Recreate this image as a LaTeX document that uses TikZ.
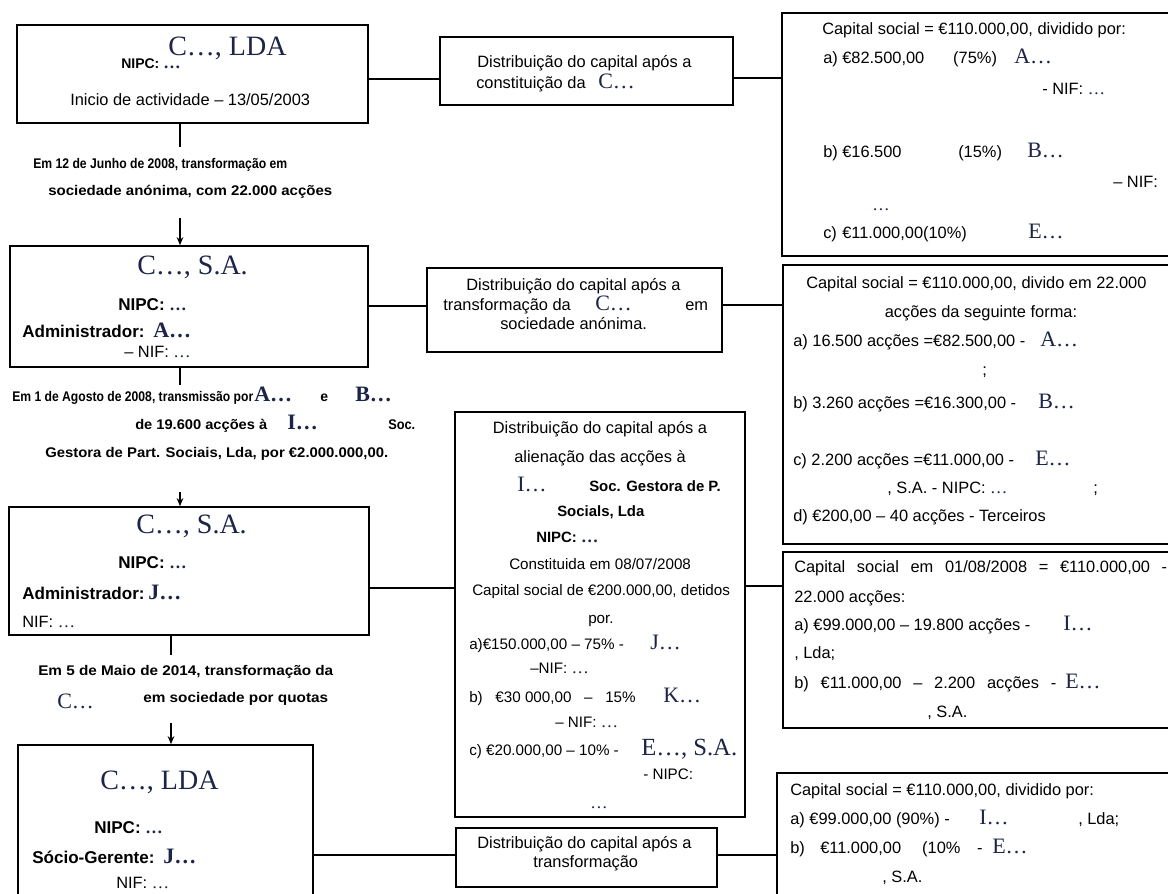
\documentclass[tikz,border=0pt]{standalone}
\usepackage{fontspec}
\usepackage{graphicx}
\setmainfont{Liberation Sans}
\newfontfamily\phfont{Liberation Serif}
\usetikzlibrary{fit,arrows.meta}
\definecolor{phc}{RGB}{28,36,72}
\newcommand\PH[1]{{\phfont\fontsize{16.5}{17}\selectfont\color{phc}#1}}
\newcommand\PHl[1]{{\phfont\fontsize{18.5}{19}\selectfont\color{phc}#1}}
\newcommand\PHs[1]{{\phfont\fontsize{13}{14}\selectfont\color{phc}#1}}
\newcommand\TT[1]{{\phfont\fontsize{21}{22}\selectfont\color{phc}#1}}
\newcommand\cell[2]{\makebox[\dimexpr #1pt*3/4\relax][l]{#2}}
\newcommand\hfit[2]{\resizebox{\dimexpr #1pt*3/4\relax}{\height}{#2}}
\newcommand\szR{\fontsize{12.3}{14}\selectfont}
\newcommand\szRs{\fontsize{11.4}{13}\selectfont}
\newcommand\szB{\fontsize{12.8}{14}\selectfont\bfseries}
\newcommand\szBs{\fontsize{10.5}{12}\selectfont\bfseries}
\newcommand\szBm{\fontsize{11.2}{13}\selectfont\bfseries}
\tikzset{
  box/.style={draw, line width=1.3pt, inner sep=0pt},
  tx/.style={inner sep=0pt, anchor=base west, font=\szR},
  txc/.style={tx, anchor=base},
  conn/.style={line width=1.3pt},
  arr/.style={conn, -{Stealth[length=6pt,width=5pt]}}
}
\begin{document}
\begin{tikzpicture}[x=0.75pt,y=-0.75pt]
\useasboundingbox (0,0) rectangle (1168,893);
\clip (0,0) rectangle (1168,893);
\fill[white] (0,0) rectangle (1168,893);
% boxes
\node[box, fit={(17,25)(368,123)}] (L1) {};
\node[box, fit={(10,246)(368,367)}] (L2) {};
\node[box, fit={(9,507)(369,635)}] (L3) {};
\node[box, fit={(18,745)(313,905)}] (L4) {};
\node[box, fit={(440,37)(733,105)}] (M1) {};
\node[box, fit={(427,268)(722,352)}] (M2) {};
\node[box, fit={(455,412)(745,817)}] (M3) {};
\node[box, fit={(456,828)(717,887)}] (M4) {};
\node[box, fit={(782,13)(1180,256)}] (R1) {};
\node[box, fit={(783,265)(1180,544)}] (R2) {};
\node[box, fit={(783,552)(1180,728)}] (R3) {};
\node[box, fit={(777,773)(1180,905)}] (R4) {};
% horizontal connectors
\coordinate (h1) at (0,79); \coordinate (h1b) at (0,78);
\coordinate (h2) at (0,306); \coordinate (h2b) at (0,305);
\coordinate (h3) at (0,588); \coordinate (h3b) at (0,586);
\coordinate (h4) at (0,855);
\draw[conn] (L1.east |- h1) -- (M1.west |- h1);
\draw[conn] (M1.east |- h1b) -- (R1.west |- h1b);
\draw[conn] (L2.east |- h2) -- (M2.west |- h2);
\draw[conn] (M2.east |- h2b) -- (R2.west |- h2b);
\draw[conn] (L3.east |- h3) -- (M3.west |- h3);
\draw[conn] (M3.east |- h3b) -- (R3.west |- h3b);
\draw[conn] (L4.east |- h4) -- (M4.west |- h4);
\draw[conn] (M4.east |- h4) -- (R4.west |- h4);
% vertical connectors
\coordinate (v1a) at (180,147); \coordinate (v1b) at (180,218);
\coordinate (v2a) at (180,385); \coordinate (v2b) at (180,492);
\coordinate (v3a) at (171,655); \coordinate (v3b) at (171,723);
\draw[conn] (L1.south -| v1a) -- (v1a);
\draw[arr] (v1b) -- (v1b |- L2.north);
\draw[conn] (L2.south -| v2a) -- (v2a);
\draw[arr] (v2b) -- (v2b |- L3.north);
\draw[conn] (L3.south -| v3a) -- (v3a);
\draw[arr] (v3b) -- (v3b |- L4.north);
% L1
\node[tx] (l1a) at (168,55) {\TT{C…, LDA}};
\node[tx, font=\szBs] (l1b) at (121,68) {NIPC: \PHs{…}};
\node[tx] (l1c) at (70,105) {Inicio de actividade – 13/05/2003};
% transition 1
\node[tx, font=\szBs] (tr1a) at (33,168) {\hfit{254}{Em 12 de Junho de 2008, transformação em}};
\node[tx, font=\szBs] (tr1b) at (48,195) {\hfit{284}{sociedade anónima, com 22.000 acções}};
% L2
\node[tx] (l2a) at (137,274) {\TT{C…, S.A.}};
\node[tx, font=\szB] (l2b) at (118,310) {NIPC: \PHs{…}};
\node[tx, font=\szB] (l2c) at (22,337) {\cell{131}{Administrador:}\PH{A…}};
\node[tx, font=\szR] (l2d) at (124,357) {– NIF: \PHs{…}};
% transition 2
\node[tx, font=\szBs] (tr2a) at (12,401) {\cell{242}{\hfit{241}{Em 1 de Agosto de 2008, transmissão por}}\cell{66}{\PH{A…}}\cell{35}{e}\PH{B…}};
\node[tx, font=\szBs] (tr2b) at (135,429) {\cell{152}{\hfit{132}{de 19.600 acções à}}\cell{101}{\PH{I…}}\hfit{27}{Soc.}};
\node[tx, font=\szBs] (tr2c) at (45,457) {\hfit{343}{Gestora de Part. Sociais, Lda, por €2.000.000,00.}};
% L3
\node[tx] (l3a) at (136,533) {\TT{C…, S.A.}};
\node[tx, font=\szB] (l3b) at (118,568) {NIPC: \PHs{…}};
\node[tx, font=\szB] (l3c) at (22,599) {\cell{126}{Administrador:}\PH{J…}};
\node[tx] (l3d) at (22,627) {NIF: \PHs{…}};
% transition 3
\node[tx, font=\szBs] (tr3a) at (38,675) {\hfit{295}{Em 5 de Maio de 2014, transformação da}};
\node[tx] (tr3b) at (57,708) {\PH{C…}};
\node[tx, font=\szBs] (tr3c) at (143,702) {\hfit{185}{em sociedade por quotas}};
% L4
\node[tx] (l4a) at (100,789) {\TT{C…, LDA}};
\node[tx, font=\szB] (l4b) at (94,833) {NIPC: \PHs{…}};
\node[tx, font=\szB] (l4c) at (32,863) {\cell{131}{Sócio-Gerente:}\PH{J…}};
\node[tx] (l4d) at (116,888) {NIF: \PHs{…}};
% M1
\node[tx] (m1a) at (477,67) {Distribuição do capital após a};
\node[tx] (m1b) at (476,88) {\cell{122}{constituição da}\PH{C…}};
% M2
\node[tx] (m2a) at (466,290) {Distribuição do capital após a};
\node[tx] (m2b) at (443,310) {\cell{152}{transformação da}\cell{90}{\PH{C…}}em};
\node[tx] (m2c) at (500,329) {sociedade anónima.};
% M3
\node[txc] (m3a) at (600,433) {Distribuição do capital após a};
\node[txc] (m3b) at (600,462) {alienação das acções à};
\node[tx] (m3c) at (517,491) {\cell{72}{\PH{I…}}{\szBm Soc. Gestora de P.}};
\node[tx, font=\szBm] (m3d) at (557,516) {Socials, Lda};
\node[tx, font=\szBm] (m3e) at (536,542) {NIPC: \PHs{…}};
\node[tx, font=\szRs] (m3f) at (509,569) {Constituida em 08/07/2008};
\node[tx, font=\szRs] (m3g) at (472,595) {Capital social de €200.000,00, detidos};
\node[tx, font=\szRs] (m3h) at (588,623) {por.};
\node[tx, font=\szRs] (m3i) at (469,649) {\cell{181}{a)€150.000,00 – 75\% -}\PH{J…}};
\node[tx, font=\szRs] (m3j) at (530,673) {–NIF: \PHs{…}};
\node[tx, font=\szRs] (m3k) at (469,702) {\cell{194}{b)\ \ \ €30 000,00\ \ \ –\ \ \ 15\%}\PH{K…}};
\node[tx, font=\szRs] (m3l) at (555,727) {– NIF: \PHs{…}};
\node[tx, font=\szRs] (m3m) at (469,755) {\cell{172}{c) €20.000,00 – 10\% -}\PHl{E…, S.A.}};
\node[tx, font=\szRs] (m3n) at (643,779) {- NIPC:};
\node[tx] (m3o) at (590,808) {\PHs{…}};
% M4
\node[tx] (m4a) at (477,848) {Distribuição do capital após a};
\node[tx] (m4b) at (533,867) {transformação};
% R1
\node[tx] (r1a) at (822,34) {Capital social = €110.000,00, dividido por:};
\node[tx] (r1b) at (823,63) {\cell{19}{a)}\cell{111}{€82.500,00}\cell{61}{(75\%)}\PH{A…}};
\node[tx] (r1c) at (1042,94) {- NIF: \PHs{…}};
\node[tx] (r1d) at (823,157) {\cell{19}{b)}\cell{116}{€16.500}\cell{69}{(15\%)}\PH{B…}};
\node[tx] (r1e) at (1113,187) {– NIF:};
\node[tx] (r1f) at (872,210) {\PHs{…}};
\node[tx] (r1g) at (823,238) {\cell{19}{c)}\cell{186}{€11.000,00(10\%)}\PH{E…}};
% R2
\node[tx] (r2a) at (806,288) {Capital social = €110.000,00, divido em 22.000};
\node[txc] (r2b) at (981,317) {acções da seguinte forma:};
\node[tx] (r2c) at (793,346) {\cell{247}{a) 16.500 acções =€82.500,00 -}\PH{A…}};
\node[tx] (r2d) at (982,375) {;};
\node[tx] (r2e) at (793,408) {\cell{245}{b) 3.260 acções =€16.300,00 -}\PH{B…}};
\node[tx] (r2f) at (793,465) {\cell{242}{c) 2.200 acções =€11.000,00 -}\PH{E…}};
\node[tx] (r2g) at (887,493) {, S.A. - NIPC: \PHs{…}};
\node[tx] (r2h) at (1093,493) {;};
\node[tx] (r2i) at (793,521) {d) €200,00 – 40 acções - Terceiros};
% R3
\node[tx] (r3a) at (794,572) {\makebox[\dimexpr 373pt*3/4\relax][s]{Capital social em 01/08/2008 = €110.000,00 -}};
\node[tx] (r3b) at (794,602) {22.000 acções:};
\node[tx] (r3c) at (794,630) {\cell{269}{a) €99.000,00 – 19.800 acções -}\PH{I…}};
\node[tx] (r3d) at (794,658) {, Lda;};
\node[tx] (r3e) at (794,688) {\cell{271}{\makebox[\dimexpr 262pt*3/4\relax][s]{b) €11.000,00 – 2.200 acções -}}\PH{E…}};
\node[tx] (r3f) at (927,717) {, S.A.};
% R4
\node[tx] (r4a) at (790,795) {Capital social = €110.000,00, dividido por:};
\node[tx] (r4b) at (790,824) {\cell{189}{a) €99.000,00 (90\%) -}\cell{99}{\PH{I…}}, Lda;};
\node[tx] (r4c) at (790,853) {\cell{30}{b)}\cell{102}{€11.000,00}\cell{55}{(10\%}\cell{15}{-}\PH{E…}};
\node[tx] (r4d) at (882,882) {, S.A.};
\end{tikzpicture}
\end{document}
